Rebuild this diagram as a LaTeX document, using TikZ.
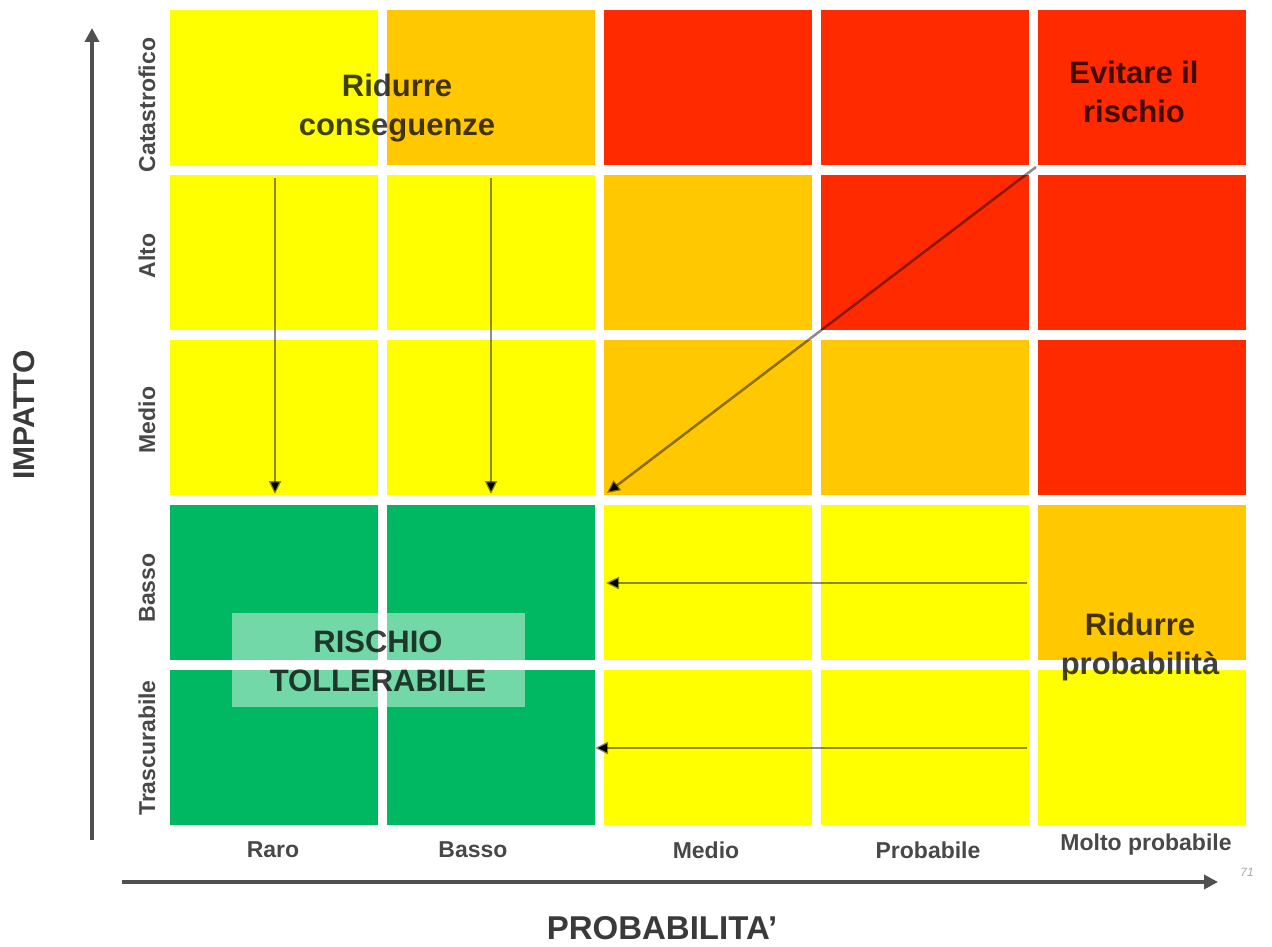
\documentclass[tikz,border=0pt]{standalone}
\usepackage{fontspec}
\setmainfont{Liberation Sans}
\usetikzlibrary{arrows.meta}
\definecolor{cy}{HTML}{FFFF00}
\definecolor{co}{HTML}{FFC800}
\definecolor{cr}{HTML}{FF2A00}
\definecolor{cg}{HTML}{00B862}
\definecolor{axisgray}{HTML}{505050}
\definecolor{labgray}{HTML}{484848}
\begin{document}
\begin{tikzpicture}[x=1pt,y=-1pt,
  cell/.style={draw=none,minimum width=208pt,minimum height=155pt,inner sep=0pt,outer sep=0pt,anchor=north west},
  bigtxt/.style={font=\fontsize{31}{39}\selectfont\bfseries,text=black,text opacity=0.74,align=center,inner sep=0pt},
  lab/.style={font=\fontsize{23}{26}\selectfont\bfseries,text=labgray,inner sep=0pt},
  axis/.style={draw=axisgray,line width=3.5pt,-{Triangle[length=14pt,width=14pt]}},
  mover/.style={draw=black,draw opacity=0.45,line width=2.5pt,-{Triangle[length=13pt,width=12pt]}}]
\useasboundingbox (0,0) rectangle (1272,947);
% grid
\foreach \col [count=\i from 0] in {cy,co,cr,cr,cr} {\node[cell,fill=\col] (ca\i) at ({170+217*\i},10) {};}
\foreach \col [count=\i from 0] in {cy,cy,co,cr,cr} {\node[cell,fill=\col] (cb\i) at ({170+217*\i},175) {};}
\foreach \col [count=\i from 0] in {cy,cy,co,co,cr} {\node[cell,fill=\col] (cc\i) at ({170+217*\i},340) {};}
\foreach \col [count=\i from 0] in {cg,cg,cy,cy,co} {\node[cell,fill=\col] (cd\i) at ({170+217*\i},505) {};}
\foreach \col [count=\i from 0] in {cg,cg,cy,cy,cy} {\node[cell,fill=\col] (ce\i) at ({170+217*\i},670) {};}
% tolerable box
\node[draw=none,fill=white,fill opacity=0.45,minimum width=293pt,minimum height=94pt,inner sep=0pt] (tolbox) at (378,660) {};
\node[bigtxt] (toltxt) at (378,661) {RISCHIO\\TOLLERABILE};
% region texts
\node[bigtxt] (ridc) at (397,108) {Ridurre\\conseguenze};
\node[bigtxt] (evit) at (1134,92) {Evitare il\\rischio};
\node[bigtxt] (ridp) at (1140,647) {Ridurre\\probabilità};
% arrows
\coordinate (a1s) at (275,178); \coordinate (a1e) at (275,494);
\coordinate (a2s) at (491,178); \coordinate (a2e) at (491,494);
\coordinate (ds) at (1036,167); \coordinate (de) at (607,493);
\coordinate (h1s) at (1027,583); \coordinate (h1e) at (606,583);
\coordinate (h2s) at (1027,748); \coordinate (h2e) at (595,748);
\draw[mover] (a1s) -- (a1e);
\draw[mover] (a2s) -- (a2e);
\draw[mover] (ds) -- (de);
\draw[mover] (h1s) -- (h1e);
\draw[mover] (h2s) -- (h2e);
% axes
\coordinate (yo) at (92,840); \coordinate (yt) at (92,28);
\coordinate (xo) at (122,882); \coordinate (xt) at (1218,882);
\draw[axis] (yo) -- (yt);
\draw[axis] (xo) -- (xt);
% axis titles
\node[font=\fontsize{30}{34}\selectfont\bfseries,text=labgray!80!black,rotate=90,inner sep=0pt] (impatto) at (24,415) {IMPATTO};
\node[font=\fontsize{33}{36}\selectfont\bfseries,text=labgray!80!black,inner sep=0pt] (prob) at (662,928) {PROBABILITA'};
\node[font=\fontsize{12}{14}\selectfont\itshape,text=black!35,inner sep=0pt] (pnum) at (1247,872) {71};
% row labels
\node[lab,rotate=90] (rl1) at (147,105) {Catastrofico};
\node[lab,rotate=90] (rl2) at (147,256) {Alto};
\node[lab,rotate=90] (rl3) at (147,420) {Medio};
\node[lab,rotate=90] (rl4) at (147,588) {Basso};
\node[lab,rotate=90] (rl5) at (147,748) {Trascurabile};
% column labels
\node[lab] (cl1) at (273,850) {Raro};
\node[lab] (cl2) at (473,850) {Basso};
\node[lab] (cl3) at (706,850) {Medio};
\node[lab] (cl4) at (928,850) {Probabile};
\node[lab] (cl5) at (1146,845) {Molto probabile};
\end{tikzpicture}
\end{document}
